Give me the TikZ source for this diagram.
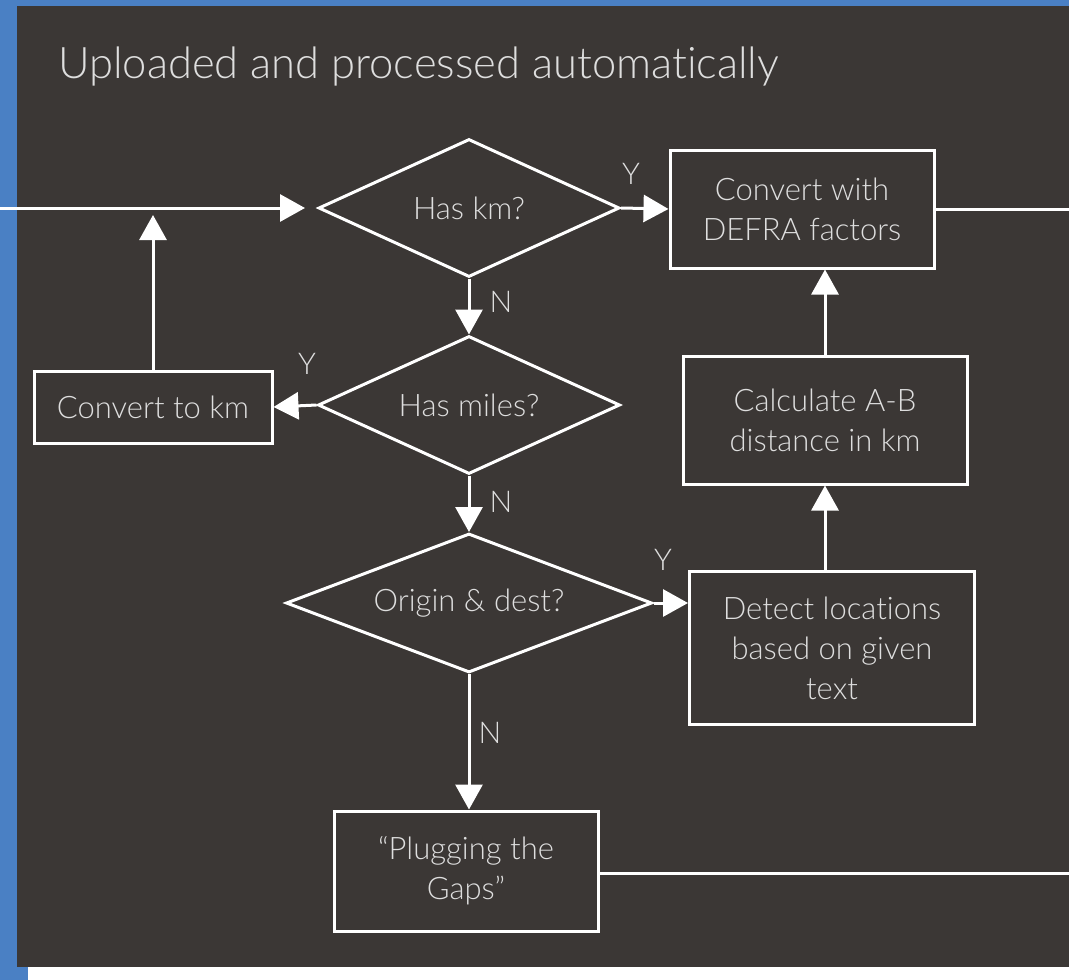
\documentclass[tikz,border=0pt]{standalone}
\usepackage{fontspec}
\setmainfont{Lato Light}[Ligatures=NoCommon]
\usetikzlibrary{shapes.geometric,arrows.meta}
\definecolor{bgdark}{HTML}{3B3735}
\definecolor{bluebar}{HTML}{4A80C4}
\definecolor{txt}{HTML}{DEDEDE}
\tikzset{
  box/.style={draw=white, line width=3pt, rectangle, inner sep=0pt, align=center, text=txt, font=\fontsize{31}{40}\selectfont},
  dia/.style={draw=white, line width=3pt, diamond, inner sep=0pt, text=txt, font=\fontsize{31}{40}\selectfont},
  arr/.style={draw=white, line width=3pt, -{Triangle[length=25pt,width=27pt]}},
  conn/.style={draw=white, line width=3pt},
  lbl/.style={text=txt, font=\fontsize{30}{34}\selectfont, inner sep=0pt}
}
\begin{document}
\begin{tikzpicture}[x=1pt,y=-1pt]
\useasboundingbox (0,0) rectangle (1069,980);
\fill[white] (0,0) rectangle (1069,980);
\fill[bluebar] (0,0) rectangle (1069,6);
\fill[bluebar] (0,0) rectangle (28,980);
\fill[bgdark] (17,6) rectangle (1069,967);
\node[text=txt, font=\fontsize{43.5}{50}\selectfont, anchor=base west, inner sep=0pt] (title) at (58,78) {Uploaded and processed automatically};
% nodes
\node[dia, minimum width=301pt, minimum height=138pt, shape aspect=2.2] (d1) at (469,208) {Has km?};
\node[dia, minimum width=302pt, minimum height=138pt, shape aspect=2.2] (d2) at (469,405) {Has miles?};
\node[dia, minimum width=366pt, minimum height=139pt, shape aspect=2.6] (d3) at (469,603) {Origin \& dest?};
\node[box, minimum width=264pt, minimum height=118pt] (b1) at (802,209) {Convert with\\DEFRA factors};
\node[box, minimum width=238pt, minimum height=72pt] (ck) at (153,407) {Convert to km};
\node[box, minimum width=284pt, minimum height=128pt] (calc) at (825,420) {Calculate A-B\\distance in km};
\node[box, minimum width=285pt, minimum height=153pt] (det) at (832,648) {Detect locations\\based on given\\text};
\node[box, minimum width=264pt, minimum height=120pt] (plug) at (466,871) {“Plugging the\\Gaps”};
% free ends
\coordinate (in) at (0,208);
\coordinate (out1) at (1069,209);
\coordinate (out2) at (1069,873);
% connectors
\draw[arr, shorten >=12pt] (in) -- (d1.west);
\draw[arr] (d1.east) -- (b1.west);
\draw[conn] (b1.east) -- (out1);
\draw[arr] (d1.south) -- (d2.north);
\draw[arr] (d2.west) -- (ck.east);
\draw[arr, shorten >=7pt] (ck.north) -- (ck.north |- in);
\draw[arr] (d2.south) -- (d3.north);
\draw[arr] (d3.east) -- (d3.east -| det.west);
\draw[arr] (det.north -| calc.south) -- (calc.south);
\draw[arr] (calc.north) -- (calc.north |- b1.south);
\draw[arr] (d3.south) -- (d3.south |- plug.north);
\draw[conn] (plug.east |- out2) -- (out2);
% labels
\node[lbl] (y1) at (631,174) {Y};
\node[lbl] (n1) at (501,302) {N};
\node[lbl] (y2) at (307,364) {Y};
\node[lbl] (n2) at (501,502) {N};
\node[lbl] (y3) at (663,560) {Y};
\node[lbl] (n3) at (490,733) {N};
\end{tikzpicture}
\end{document}
